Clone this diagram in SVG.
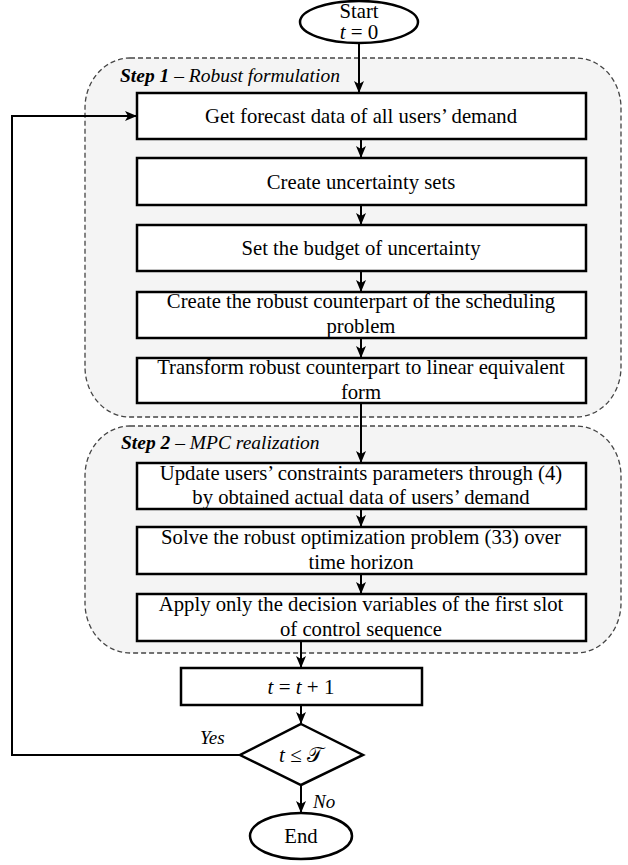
<svg xmlns="http://www.w3.org/2000/svg" width="628" height="865" viewBox="0 0 628 865">
  <style>
    .region { fill: #f4f4f4; stroke: #444; stroke-width: 1.3; stroke-dasharray: 5 3; }
    .box { fill: #fff; stroke: #000; stroke-width: 2.5; }
    .term { fill: #fff; stroke: #000; stroke-width: 2.5; }
    .lbl { font-family: "Liberation Serif", "Times New Roman", serif; font-size: 20.7px; fill: #000; text-anchor: middle; }
    .step { font-family: "Liberation Serif", "Times New Roman", serif; font-size: 19.5px; font-style: italic; fill: #000; }
    .math { font-family: "Liberation Serif", "DejaVu Serif", serif; font-size: 21px; fill: #000; text-anchor: middle; }
    .edge { fill: none; stroke: #000; stroke-width: 2; }
    .yn { font-family: "Liberation Serif", "Times New Roman", serif; font-size: 19px; font-style: italic; fill: #000; }
  </style>
  <defs>
    <marker id="arrow" viewBox="0 0 12 10" refX="11" refY="5" markerWidth="12" markerHeight="10" markerUnits="userSpaceOnUse" orient="auto">
      <path d="M0,0 L12,5 L0,10 L3,5 Z" fill="#000"/>
    </marker>
  </defs>

  <rect width="628" height="865" fill="#fff"/>

  <!-- dashed stage regions -->
  <g id="step1">
    <rect class="region" x="85" y="58" width="536" height="359" rx="45" ry="50"/>
    <text class="step" x="120" y="82"><tspan font-weight="bold">Step 1</tspan> – Robust formulation</text>
  </g>
  <g id="step2">
    <rect class="region" x="85" y="426" width="536" height="227" rx="45" ry="50"/>
    <text class="step" x="121" y="449"><tspan font-weight="bold">Step 2</tspan> – MPC realization</text>
  </g>

  <!-- connectors -->
  <g id="connectors">
    <line class="edge" x1="359" y1="43" x2="359" y2="92" marker-end="url(#arrow)"/>
    <line class="edge" x1="361" y1="139" x2="361" y2="157" marker-end="url(#arrow)"/>
    <line class="edge" x1="361" y1="205" x2="361" y2="224" marker-end="url(#arrow)"/>
    <line class="edge" x1="361" y1="271" x2="361" y2="291" marker-end="url(#arrow)"/>
    <line class="edge" x1="361" y1="338" x2="361" y2="357" marker-end="url(#arrow)"/>
    <line class="edge" x1="361" y1="403" x2="361" y2="462" marker-end="url(#arrow)"/>
    <line class="edge" x1="361" y1="509" x2="361" y2="526" marker-end="url(#arrow)"/>
    <line class="edge" x1="361" y1="574" x2="361" y2="593" marker-end="url(#arrow)"/>
    <line class="edge" x1="301" y1="641" x2="301" y2="667" marker-end="url(#arrow)"/>
    <line class="edge" x1="301" y1="705" x2="301" y2="723" marker-end="url(#arrow)"/>
    <line class="edge" x1="301" y1="785" x2="301" y2="812" marker-end="url(#arrow)"/>
    <polyline class="edge" points="240,755 12,755 12,116 136,116" marker-end="url(#arrow)"/>
    <text class="yn" x="200" y="744">Yes</text>
    <text class="yn" x="313" y="808">No</text>
  </g>

  <!-- nodes -->
  <g id="start">
    <ellipse class="term" cx="359" cy="22" rx="59" ry="21"/>
    <text class="lbl" x="359" y="18">Start</text>
    <text class="math" x="359" y="39"><tspan font-style="italic">t</tspan> = 0</text>
  </g>
  <g id="forecast">
    <rect class="box" x="137" y="93" width="449" height="46"/>
    <text class="lbl" x="361" y="123">Get forecast data of all users’ demand</text>
  </g>
  <g id="uncertainty-sets">
    <rect class="box" x="137" y="158" width="449" height="47"/>
    <text class="lbl" x="361" y="189">Create uncertainty sets</text>
  </g>
  <g id="budget">
    <rect class="box" x="137" y="225" width="449" height="46"/>
    <text class="lbl" x="361" y="255">Set the budget of uncertainty</text>
  </g>
  <g id="counterpart">
    <rect class="box" x="137" y="292" width="449" height="46"/>
    <text class="lbl" x="361" y="308">Create the robust counterpart of the scheduling</text>
    <text class="lbl" x="361" y="333">problem</text>
  </g>
  <g id="linearize">
    <rect class="box" x="137" y="358" width="449" height="45"/>
    <text class="lbl" x="361" y="374">Transform robust counterpart to linear equivalent</text>
    <text class="lbl" x="361" y="399">form</text>
  </g>
  <g id="update">
    <rect class="box" x="137" y="463" width="449" height="46"/>
    <text class="lbl" x="361" y="480">Update users’ constraints parameters through (4)</text>
    <text class="lbl" x="361" y="504">by obtained actual data of users’ demand</text>
  </g>
  <g id="solve">
    <rect class="box" x="137" y="527" width="449" height="47"/>
    <text class="lbl" x="361" y="544">Solve the robust optimization problem (33) over</text>
    <text class="lbl" x="361" y="569">time horizon</text>
  </g>
  <g id="apply">
    <rect class="box" x="137" y="594" width="449" height="47"/>
    <text class="lbl" x="361" y="611">Apply only the decision variables of the first slot</text>
    <text class="lbl" x="361" y="636">of control sequence</text>
  </g>
  <g id="increment">
    <rect class="box" x="181" y="668" width="241" height="37"/>
    <text class="math" x="301" y="694"><tspan font-style="italic">t</tspan> = <tspan font-style="italic">t</tspan> + 1</text>
  </g>
  <g id="check">
    <polygon class="box" points="301,724 363,755 301,785 240,755"/>
    <text class="math" x="301" y="762"><tspan font-style="italic">t</tspan> ≤ 𝒯</text>
  </g>
  <g id="end">
    <ellipse class="term" cx="301" cy="836" rx="51" ry="23"/>
    <text class="lbl" x="301" y="843">End</text>
  </g>
</svg>
